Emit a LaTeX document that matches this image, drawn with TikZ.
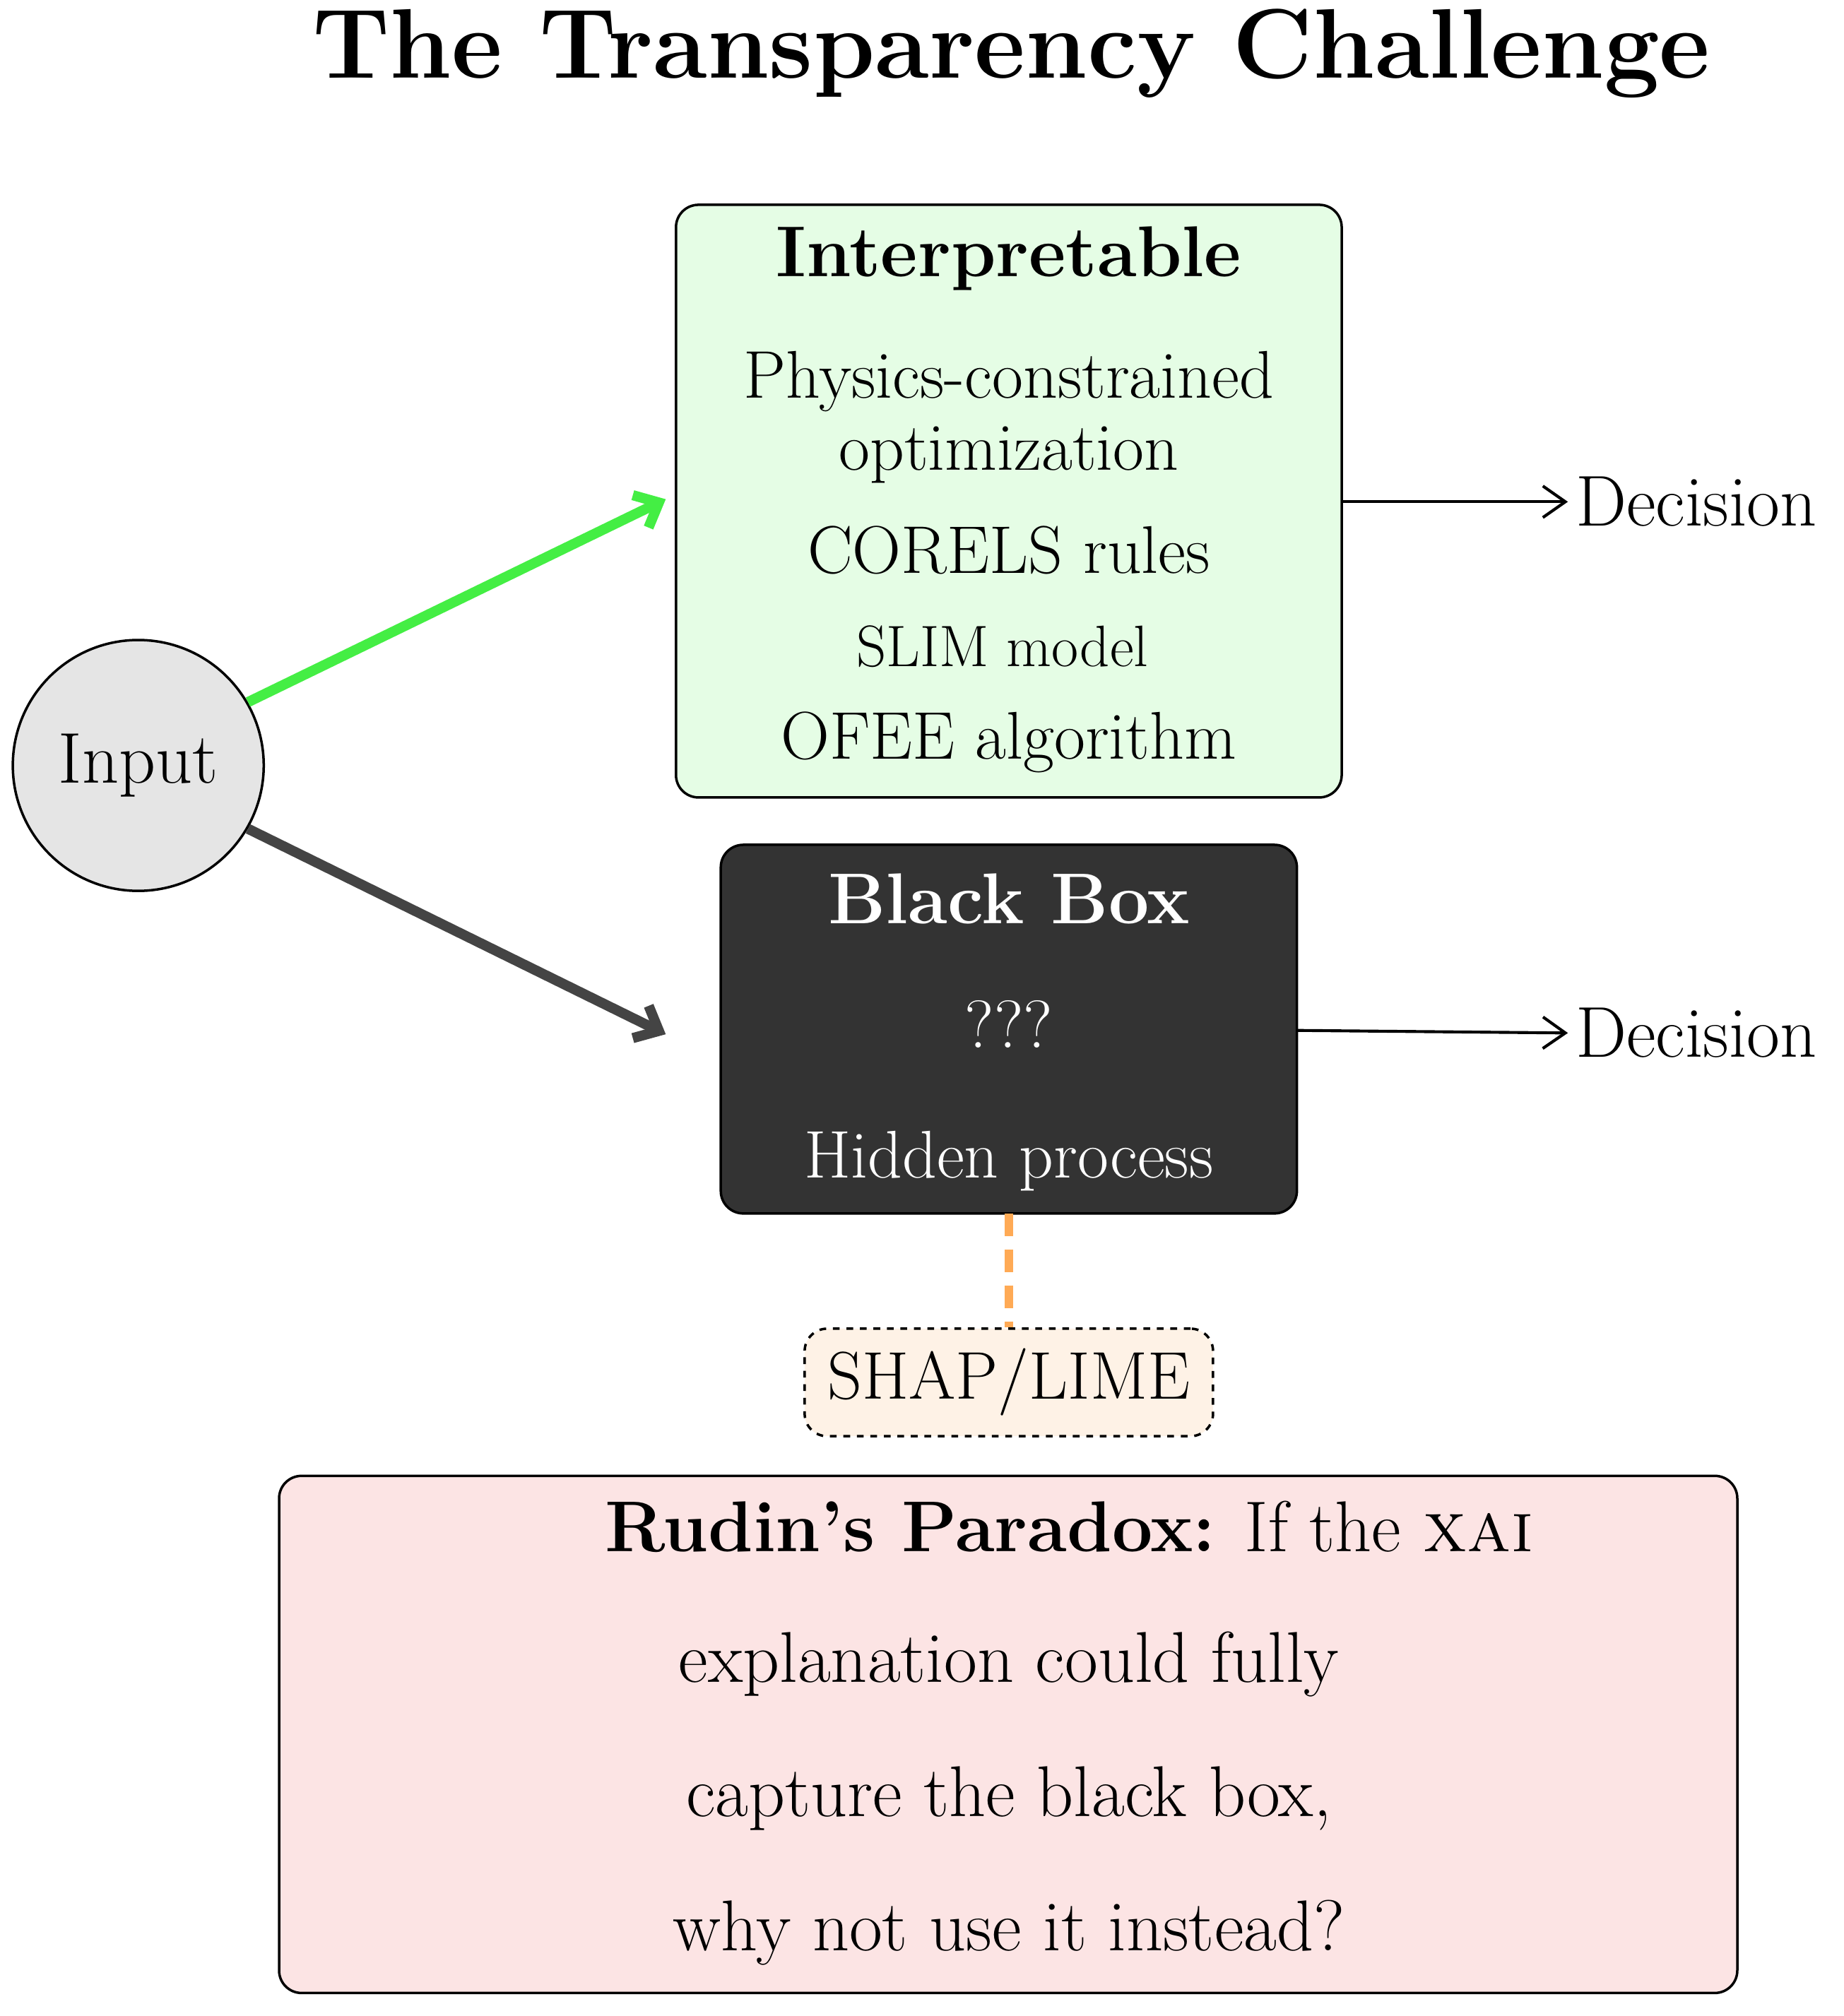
\documentclass[tikz,border=0pt]{standalone}
\usepackage{fontspec}
\usetikzlibrary{arrows.meta}
\begin{document}
\begin{tikzpicture}[x=0.02cm,y=-0.02cm,
  box/.style={draw=black,line width=1.1pt,rounded corners=10pt},
  txt/.style={font=\fontsize{30}{36}\selectfont},
  arr/.style={-{Straight Barb[length=10pt,width=14pt]},line width=1.3pt},
  big/.style={line width=4.5pt,-{Straight Barb[length=9pt,width=16pt]}}]
\useasboundingbox (0,0) rectangle (1440,1575);
\node (title) at (790,42) {\fontsize{44}{50}\selectfont\bfseries The Transparency Challenge};
% interpretable
\draw[box,fill={rgb,255:red,229;green,253;blue,229}] (528,160) rectangle (1048,623);
\coordinate (ib) at (1048,392);
\node[font=\fontsize{32}{38}\selectfont\bfseries] (ih) at (788,202) {Interpretable};
\node[txt,align=center] (i1) at (788,326) {Physics-constrained\\[-4pt]optimization};
\node[txt] (i2) at (788,430) {CORELS rules};
\node[font=\fontsize{26}{30}\selectfont] (i3) at (783,505) {SLIM model};
\node[txt] (i4) at (788,580) {OFEE algorithm};
\node[font=\fontsize{32}{38}\selectfont] (d1) at (1325,392) {Decision};
\draw[arr] (ib) -- (d1.west);
% black box
\draw[box,fill={rgb,255:red,51;green,51;blue,51}] (563,660) rectangle (1013,948);
\coordinate (bb) at (1013,805);
\node[font=\fontsize{32}{38}\selectfont\bfseries,text=white] (bh) at (788,702) {Black Box};
\node[txt,text=white] (b1) at (788,800) {???};
\node[txt,text=white] (b2) at (788,907) {Hidden process};
\node[font=\fontsize{32}{38}\selectfont] (d2) at (1325,807) {Decision};
\draw[arr] (bb) -- (d2.west);
% input
\node[draw,circle,line width=1.1pt,fill=black!10,minimum size=196*0.02cm,inner sep=0pt,font=\fontsize{32}{38}\selectfont] (in) at (108,598) {Input};
\coordinate (it) at (520,390);
\coordinate (bt) at (520,808);
\draw[big,draw={rgb,255:red,68;green,238;blue,68}] (in.30) -- (it);
\draw[big,draw={rgb,255:red,68;green,68;blue,68}] (in.-30) -- (bt);
% shap
\node[draw,dashed,line width=1.1pt,rounded corners=10pt,fill={rgb,255:red,254;green,242;blue,230},minimum width=319*0.02cm,minimum height=84*0.02cm,txt] (shap) at (788,1080) {SHAP/LIME};
\coordinate (bbot) at (788,948);
\draw[dashed,line width=4pt,dash pattern=on 10pt off 6pt,draw={rgb,255:red,255;green,170;blue,85}] (bbot) -- (shap.north);
% rudin
\draw[box,fill={rgb,255:red,252;green,228;blue,228}] (218,1153) rectangle (1357,1557);
\node[font=\fontsize{32}{38}\selectfont] (r1) at (835,1193) {\textbf{Rudin's Paradox:} If the \textsc{xai}};
\node[font=\fontsize{32}{38}\selectfont] (r2) at (788,1300) {explanation could fully};
\node[font=\fontsize{32}{38}\selectfont] (r3) at (788,1405) {capture the black box,};
\node[font=\fontsize{32}{38}\selectfont] (r4) at (788,1510) {why not use it instead?};
\end{tikzpicture}
\end{document}
